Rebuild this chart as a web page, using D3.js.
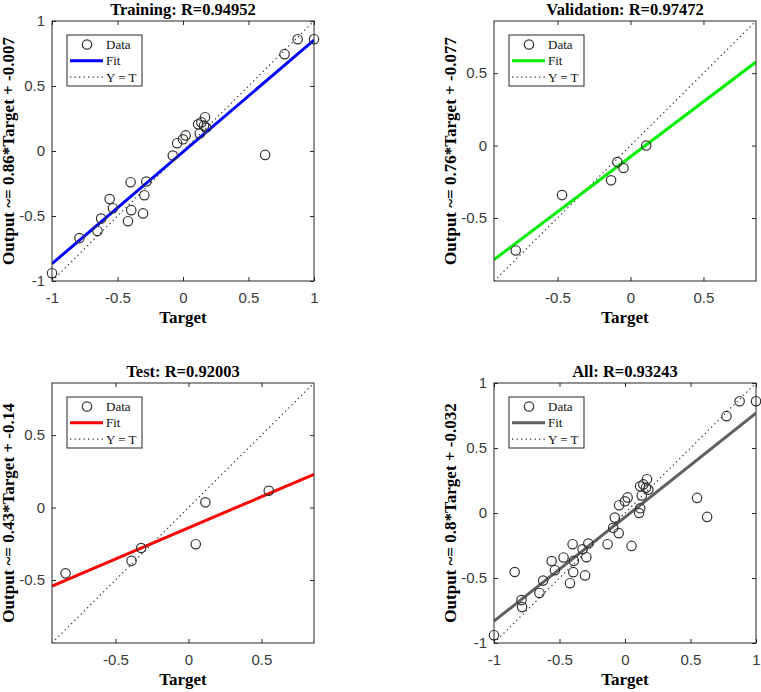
<!DOCTYPE html>
<html>
<head>
<meta charset="utf-8">
<script src="https://cdn.jsdelivr.net/npm/d3@7.9.0/dist/d3.min.js"></script>
<style>
  body { margin: 0; background: #fff; }
  .tick text { font-family: "Liberation Sans", Arial, sans-serif; font-size: 15px; fill: #3a3a3a; }
  .tick line { stroke: #262626; }
  .domain { stroke: none; }
</style>
</head>
<body>
<div id="chart"></div>
<script>
// Training subset
const trainTarget = [-1.0, -0.79, -0.653, -0.625, -0.56, -0.535, -0.42, -0.40, -0.395, -0.305, -0.295, -0.28,
  -0.078, -0.045, 0.0, 0.02, 0.115, 0.128, 0.14, 0.16, 0.168, 0.178, 0.627, 0.775, 0.875, 1.0];
const trainOutput = [-0.94, -0.67, -0.615, -0.52, -0.37, -0.44, -0.54, -0.24, -0.455, -0.48, -0.34, -0.235,
  -0.035, 0.06, 0.09, 0.12, 0.205, 0.135, 0.22, 0.195, 0.26, 0.18, -0.03, 0.745, 0.86, 0.86];

// Validation subset
const valTarget = [-0.786, -0.469, -0.133, -0.09, -0.048, 0.108];
const valOutput = [-0.724, -0.342, -0.24, -0.114, -0.155, 0.0];

// Test subset
const testTarget = [-0.842, -0.39, -0.324, 0.05, 0.116, 0.55];
const testOutput = [-0.454, -0.368, -0.279, -0.253, 0.036, 0.116];

// Fit coefficients [slope, intercept] as printed on the y labels
const fitTrain = [0.86, -0.007];
const fitVal = [0.76, -0.077];
const fitTest = [0.43, -0.14];
const fitAll = [0.8, -0.032];

const rTrain = "0.94952", rVal = "0.97472", rTest = "0.92003", rAll = "0.93243";

const ticksFull = [-1, -0.5, 0, 0.5, 1];
const ticksHalf = [-0.5, 0, 0.5];

const W = 761, H = 692;
const svg = d3.select("#chart").append("svg").attr("width", W).attr("height", H);

const panels = [
  { title: "Training: R=" + rTrain, t: trainTarget, o: trainOutput, fit: fitTrain, color: "#0000ff",
    dom: [-1, 1], ticks: ticksFull, x: 52, y: 21, label: "Output ~= 0.86*Target + -0.007" },
  { title: "Validation: R=" + rVal, t: valTarget, o: valOutput, fit: fitVal, color: "#00ee00",
    dom: [-0.935, 0.86], ticks: ticksHalf, x: 494, y: 21, label: "Output ~= 0.76*Target + -0.077" },
  { title: "Test: R=" + rTest, t: testTarget, o: testOutput, fit: fitTest, color: "#ff0000",
    dom: [-0.935, 0.86], ticks: ticksHalf, x: 52, y: 383, label: "Output ~= 0.43*Target + -0.14" },
  { title: "All: R=" + rAll, t: trainTarget.concat(valTarget, testTarget), o: trainOutput.concat(valOutput, testOutput),
    fit: fitAll, color: "#5f5f5f", dom: [-1, 1], ticks: ticksFull, x: 494, y: 383, label: "Output ~= 0.8*Target + -0.032" }
];

const boxW = 262, boxH = 260;
const serif = "'Liberation Serif', 'Times New Roman', serif";

panels.forEach(p => {
  const g = svg.append("g").attr("transform", `translate(${p.x},${p.y})`);
  const x = d3.scaleLinear().domain(p.dom).range([0, boxW]);
  const y = d3.scaleLinear().domain(p.dom).range([boxH, 0]);
  const fmt = v => String(v);

  // axes, ticks pointing inward on all four sides
  g.append("g").attr("transform", `translate(0,${boxH})`)
    .call(d3.axisBottom(x).tickValues(p.ticks).tickFormat(fmt).tickSizeInner(-4).tickSizeOuter(0).tickPadding(11));
  g.append("g")
    .call(d3.axisLeft(y).tickValues(p.ticks).tickFormat(fmt).tickSizeInner(-4).tickSizeOuter(0).tickPadding(7));
  g.append("g")
    .call(d3.axisTop(x).tickValues(p.ticks).tickFormat("").tickSizeInner(-4).tickSizeOuter(0));
  g.append("g").attr("transform", `translate(${boxW},0)`)
    .call(d3.axisRight(y).tickValues(p.ticks).tickFormat("").tickSizeInner(-4).tickSizeOuter(0));

  // clip for lines
  const clipId = "clip" + p.x + "_" + p.y;
  g.append("clipPath").attr("id", clipId).append("rect").attr("width", boxW).attr("height", boxH);
  const plot = g.append("g").attr("clip-path", `url(#${clipId})`);

  // Y = T
  plot.append("line")
    .attr("x1", x(p.dom[0])).attr("y1", y(p.dom[0]))
    .attr("x2", x(p.dom[1])).attr("y2", y(p.dom[1]))
    .attr("stroke", "#333").attr("stroke-width", 1.2).attr("stroke-dasharray", "1.3,3.2");

  // fit
  const f = v => p.fit[0] * v + p.fit[1];
  plot.append("line")
    .attr("x1", x(p.dom[0])).attr("y1", y(f(p.dom[0])))
    .attr("x2", x(p.dom[1])).attr("y2", y(f(p.dom[1])))
    .attr("stroke", p.color).attr("stroke-width", 3);

  // data
  g.selectAll("circle.pt").data(d3.range(p.t.length)).join("circle")
    .attr("class", "pt")
    .attr("cx", i => x(p.t[i])).attr("cy", i => y(p.o[i])).attr("r", 4.7)
    .attr("fill", "none").attr("stroke", "#333").attr("stroke-width", 1.2);

  // box
  g.append("rect").attr("width", boxW).attr("height", boxH)
    .attr("fill", "none").attr("stroke", "#262626").attr("stroke-width", 1);

  // title + labels
  g.append("text").attr("x", boxW / 2).attr("y", -6).attr("text-anchor", "middle")
    .style("font-family", serif).style("font-weight", "bold").style("font-size", "16.5px")
    .text(p.title);
  g.append("text").attr("x", boxW / 2).attr("y", boxH + 42).attr("text-anchor", "middle")
    .style("font-family", serif).style("font-weight", "bold").style("font-size", "17px")
    .text("Target");
  g.append("text").attr("transform", `translate(-38,${boxH / 2}) rotate(-90)`).attr("text-anchor", "middle")
    .style("font-family", serif).style("font-weight", "bold").style("font-size", "17px")
    .text(p.label);

  // legend
  const lg = g.append("g").attr("transform", "translate(15,14)");
  lg.append("rect").attr("width", 75).attr("height", 51)
    .attr("fill", "#fff").attr("stroke", "#262626").attr("stroke-width", 1);
  const rows = ["Data", "Fit", "Y = T"];
  rows.forEach((r, i) => {
    const ry = 9.5 + i * 16.3;
    if (i === 0) {
      lg.append("circle").attr("cx", 20).attr("cy", ry).attr("r", 4.7)
        .attr("fill", "none").attr("stroke", "#333").attr("stroke-width", 1.2);
    } else if (i === 1) {
      lg.append("line").attr("x1", 3).attr("x2", 36).attr("y1", ry).attr("y2", ry)
        .attr("stroke", p.color).attr("stroke-width", 3);
    } else {
      lg.append("line").attr("x1", 3).attr("x2", 36).attr("y1", ry).attr("y2", ry)
        .attr("stroke", "#333").attr("stroke-width", 1.2).attr("stroke-dasharray", "1.3,3.2");
    }
    lg.append("text").attr("x", 39).attr("y", ry + 4.5)
      .style("font-family", serif).style("font-size", "13px").attr("fill", "#111")
      .text(r);
  });
});
</script>
</body>
</html>
